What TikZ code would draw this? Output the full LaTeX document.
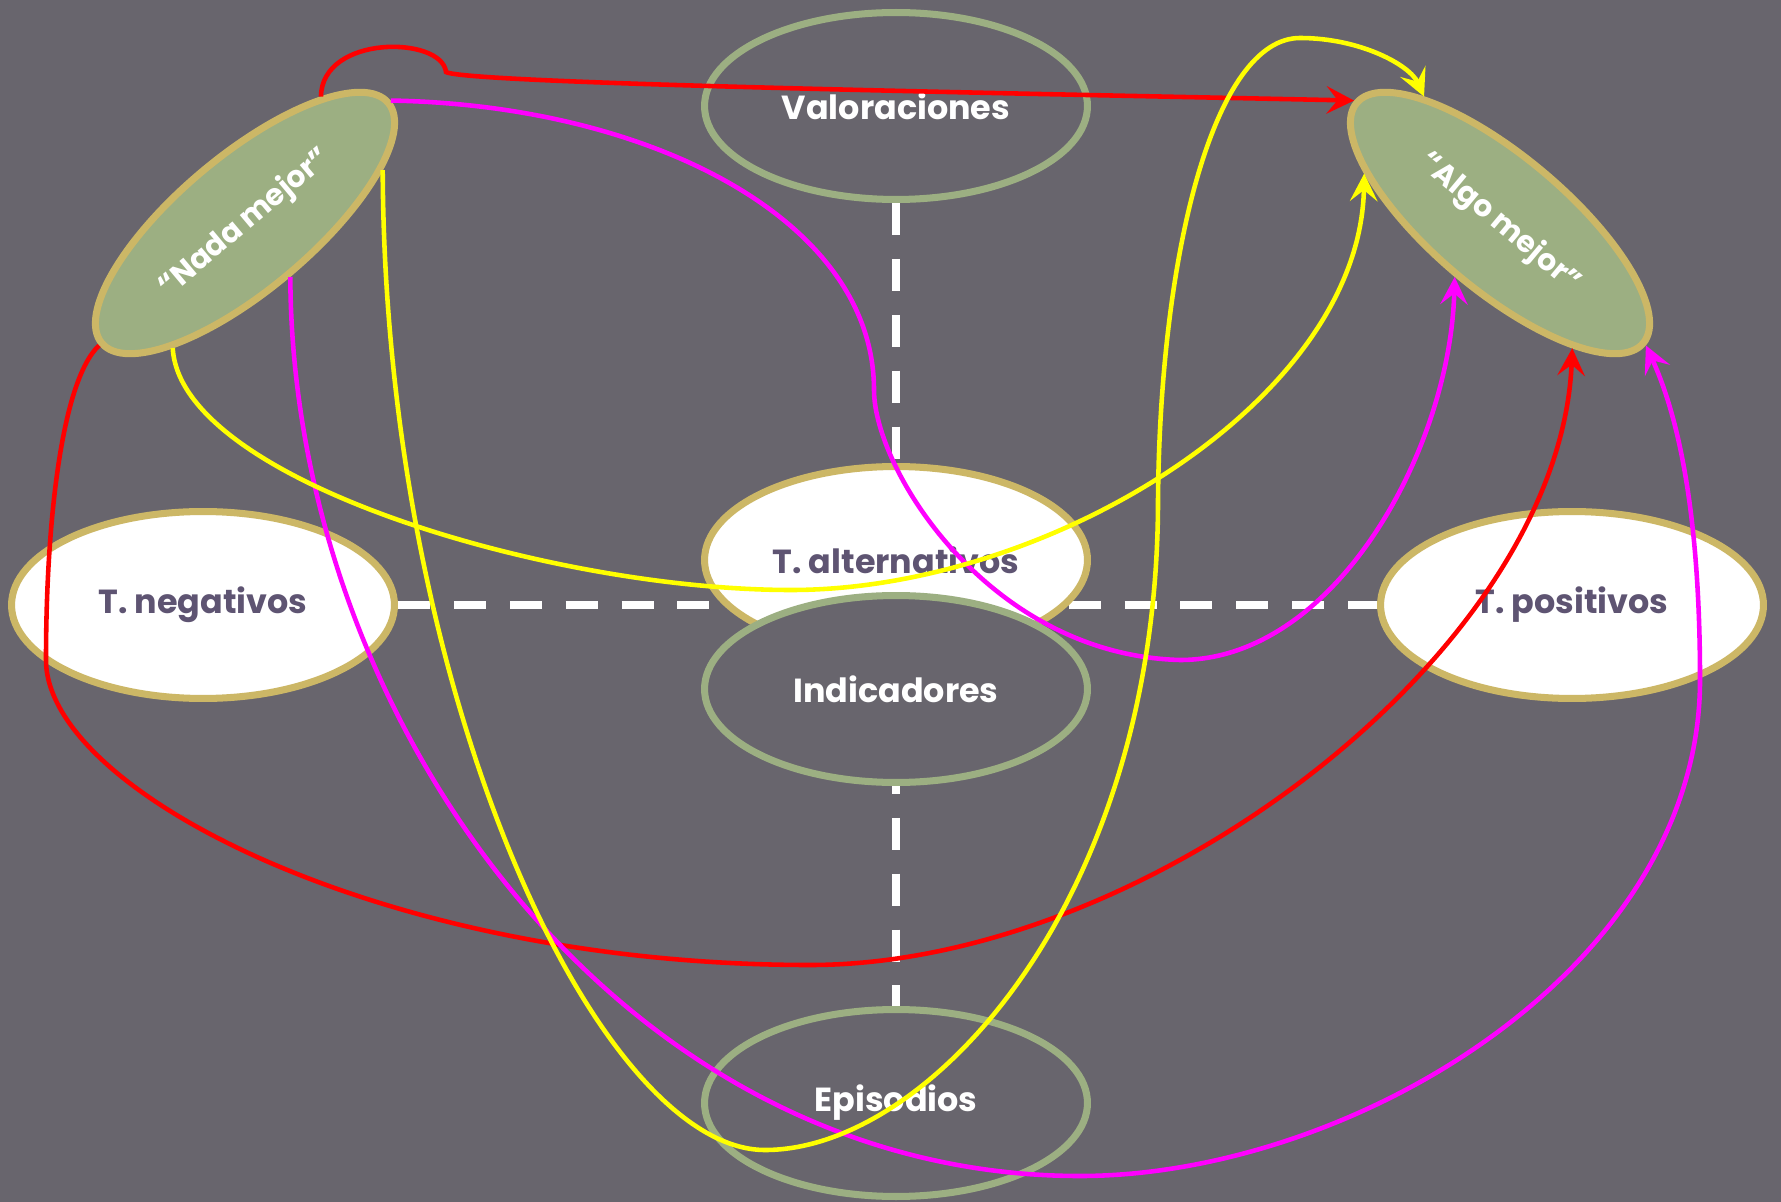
\documentclass[tikz,border=0pt]{standalone}
\usepackage{fontspec}
\setmainfont{Poppins}
\usepackage{tikz}
\usetikzlibrary{arrows.meta,shapes.geometric,positioning}
\definecolor{fondo}{RGB}{104,101,109}
\definecolor{verde}{RGB}{156,175,130}
\definecolor{oro}{RGB}{204,183,102}
\definecolor{tinta}{RGB}{94,84,114}
\definecolor{rojo}{RGB}{255,0,0}
\definecolor{fucsia}{RGB}{255,0,255}
\definecolor{amarillo}{RGB}{255,255,0}
\pgfdeclarelayer{bglayer}
\pgfdeclarelayer{edgelayer}
\pgfsetlayers{bglayer,edgelayer,main}

\begin{document}
\begin{tikzpicture}[x=0.02cm,y=-0.02cm,
  ovalo/.style={ellipse,minimum width=7.66cm,minimum height=3.74cm,inner sep=0pt,line width=4pt,font=\bfseries\fontsize{19}{22}\selectfont},
  nivel/.style={ovalo,draw=verde,fill=fondo,text=white},
  tipo/.style={ovalo,draw=oro,fill=white,text=tinta},
  polo/.style={ellipse,minimum width=7.48cm,minimum height=2.68cm,inner sep=0pt,line width=4pt,draw=oro,fill=verde,text=white,font=\bfseries\fontsize{17}{20}\selectfont},
  raya/.style={draw=white,line width=4.3pt,dash pattern=on 0.64cm off 0.478cm},
  flecha/.style={line width=2.6pt,-{Stealth[length=5.5mm,width=5.5mm,inset=2.2mm]}}]
\begin{pgfonlayer}{bglayer}
\fill[fondo] (0,0) rectangle (1781,1202);
\end{pgfonlayer}
% niveles
\node[nivel] (val) at (896,106) {Valoraciones};
\node[tipo] (alt) at (896,560) {T. alternativos};
\node[nivel] (ind) at (896,689) {Indicadores};
\node[nivel] (epi) at (896,1103) {Episodios};
\node[tipo] (neg) at (203,605) {T. negativos};
\node[tipo] (pos) at (1572,605) {T. positivos};
\node[polo,rotate=40] (nada) at (245,223) {“Nada mejor”};
\node[polo,rotate=-40] (algo) at (1500,223) {“Algo mejor”};
\begin{pgfonlayer}{edgelayer}
\draw[raya] (val.south) -- (epi.north);
\draw[raya] (neg.east) -- (pos.west);
\end{pgfonlayer}
% rojo
\draw[flecha,rojo] (nada.19) .. controls (322,34) and (442,36) .. (446,72)
  .. controls (466,84) and (1052,94) .. (algo.180);
\draw[flecha,rojo] (nada.180) .. controls (62,380) and (46,520) .. (46,660)
  .. controls (46,790) and (380,965) .. (810,965)
  .. controls (1150,965) and (1560,650) .. (algo.340);
% fucsia
\draw[flecha,fucsia] (nada.0) .. controls (650,105) and (874,220) .. (874,390)
  .. controls (874,470) and (990,655) .. (1180,660)
  .. controls (1335,660) and (1450,450) .. (algo.270);
\draw[flecha,fucsia] (nada.270) .. controls (292,720) and (620,1176) .. (1080,1176)
  .. controls (1350,1176) and (1700,970) .. (1700,680)
  .. controls (1700,520) and (1680,420) .. (algo.0);
% amarillo
\draw[flecha,amarillo] (nada.341) .. controls (385,700) and (600,1150) .. (765,1150)
  .. controls (930,1150) and (1158,900) .. (1158,500)
  .. controls (1160,250) and (1215,38) .. (1300,38)
  .. controls (1360,38) and (1410,65) .. (algo.161);
\draw[flecha,amarillo] (nada.200) .. controls (180,480) and (550,590) .. (791,590)
  .. controls (1050,590) and (1360,400) .. (algo.200);
\end{tikzpicture}
\end{document}
